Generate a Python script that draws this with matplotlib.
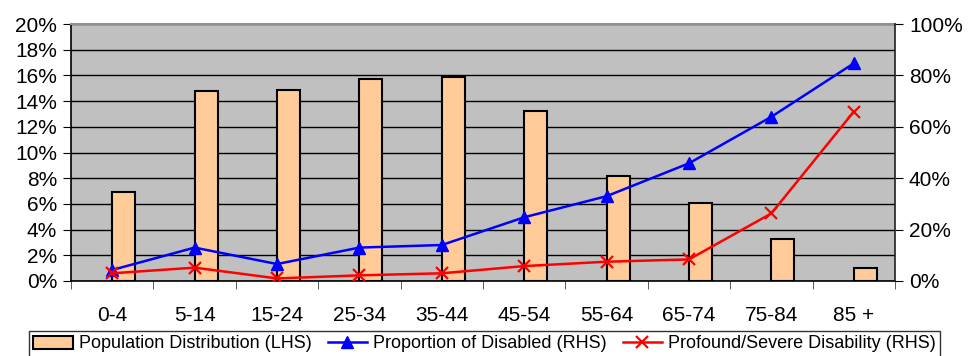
import matplotlib
matplotlib.use("Agg")
import matplotlib.pyplot as plt
import numpy as np
from matplotlib.ticker import FuncFormatter, FixedLocator

plt.rcParams['font.family'] = ['Liberation Sans', 'DejaVu Sans']

categories = ["0-4", "5-14", "15-24", "25-34", "35-44", "45-54", "55-64", "65-74", "75-84", "85 +"]
population = [6.95, 14.8, 14.9, 15.7, 15.9, 13.2, 8.2, 6.05, 3.3, 1.05]
disabled = [4.3, 13.0, 6.6, 13.0, 14.0, 24.8, 33.0, 45.8, 63.9, 84.7]
severe = [3.0, 5.2, 1.0, 2.2, 3.0, 5.8, 7.5, 8.4, 26.3, 65.9]

fig = plt.figure(figsize=(9.69, 3.56), dpi=100)
ax = fig.add_axes([71/969, 1 - 281/356, (895-71)/969, (281-24)/356])
ax.set_facecolor('#C0C0C0')
x = np.arange(len(categories))
ax.set_xlim(-0.5, len(categories) - 0.5)
ax.set_ylim(0, 20)
ax.yaxis.set_major_locator(FixedLocator(np.arange(0, 21, 2)))
ax.yaxis.set_major_formatter(FuncFormatter(lambda v, p: f"{v:.0f}%"))
ax.grid(axis='y', color='black', linewidth=1)
ax.set_axisbelow(True)
bars = ax.bar(x, population, width=0.28, align='edge', color='#FFCC99', edgecolor='black',
              linewidth=1.5, zorder=2, label='Population Distribution (LHS)')

ax.set_xticks(x)
ax.set_xticklabels(categories)
ax.tick_params(axis='x', length=0, labelsize=15, pad=18)
ax.set_xticks(np.arange(-0.5, len(categories), 1), minor=True)
ax.tick_params(axis='x', which='minor', length=6, direction='out', color='#404040')
ax.tick_params(axis='y', labelsize=15, length=6, direction='out', pad=4)

ax.spines['left'].set_color('black'); ax.spines['left'].set_linewidth(1.2)
ax.spines['top'].set_color('#909090'); ax.spines['top'].set_linewidth(1.5)
ax.spines['bottom'].set_color('black'); ax.spines['bottom'].set_linewidth(1.2)
ax.spines['right'].set_visible(False)

ax2 = ax.twinx()
ax2.set_ylim(0, 100)
ax2.yaxis.set_major_locator(FixedLocator(np.arange(0, 101, 20)))
ax2.yaxis.set_major_formatter(FuncFormatter(lambda v, p: f"{v:.0f}%"))
ax2.tick_params(axis='y', labelsize=15, length=6, direction='out', pad=4)
ax2.spines['right'].set_color('#202020'); ax2.spines['right'].set_linewidth(1.2)
for s in ['top', 'left', 'bottom']:
    ax2.spines[s].set_visible(False)
l1, = ax2.plot(x, disabled, color='#0000FF', linewidth=1.8, marker='^', markersize=9,
               label='Proportion of Disabled (RHS)')
l2, = ax2.plot(x, severe, color='#FF0000', linewidth=1.8, marker='x', markersize=9, markeredgewidth=1.6,
               label='Profound/Severe Disability (RHS)')

leg = fig.legend([bars, l1, l2], [bars.get_label(), l1.get_label(), l2.get_label()],
                 loc='center', bbox_to_anchor=(484.5/969, 1 - 344/356), ncol=3, fontsize=13,
                 frameon=True, fancybox=False, edgecolor='black', handlelength=2.2,
                 handletextpad=0.3, columnspacing=0.9, borderpad=0.25)
leg.get_frame().set_linewidth(1.0)

fig.savefig('out.png', dpi=100)
